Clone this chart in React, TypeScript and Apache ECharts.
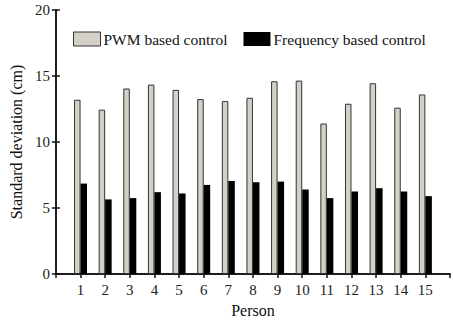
import React, { useEffect, useRef } from "react";
import * as echarts from "echarts";

const persons = [1, 2, 3, 4, 5, 6, 7, 8, 9, 10, 11, 12, 13, 14, 15];
const pwmValues = [13.2, 12.45, 14.05, 14.35, 13.95, 13.25, 13.1, 13.35, 14.6, 14.65, 11.4, 12.9, 14.45, 12.6, 13.6];
const freqValues = [6.85, 5.65, 5.75, 6.2, 6.1, 6.75, 7.05, 6.95, 7.0, 6.4, 5.75, 6.25, 6.5, 6.25, 5.9];
const yTicks = [0, 5, 10, 15, 20];

const FONT = "Liberation Serif";

export default function App() {
  const ref = useRef<HTMLDivElement>(null);
  useEffect(() => {
    if (!ref.current) return;
    const chart = echarts.init(ref.current, null, { renderer: "svg" });
    const axisLine = { show: true, lineStyle: { color: "#111", width: 1.5 } };
    chart.setOption({
      animation: false,
      backgroundColor: "#fff",
      textStyle: { fontFamily: FONT },
      legend: {
        left: 73,
        top: 31,
        padding: 0,
        itemWidth: 27,
        itemHeight: 14,
        itemGap: 16,
        textStyle: { fontFamily: FONT, fontSize: 15.5, color: "#111", padding: [0, 0, 0, -2] },
        data: [
          { name: "PWM based control", icon: "rect", itemStyle: { color: "#d4d0c8", borderColor: "#333", borderWidth: 1 } },
          { name: "Frequency based control", icon: "rect", itemStyle: { color: "#000" } },
        ],
      },
      grid: { left: 51, right: 1, top: 10, bottom: 46 },
      xAxis: [
        {
          type: "value",
          min: 0,
          max: persons.length + 1,
          interval: 1,
          name: "Person",
          nameLocation: "middle",
          nameGap: 28,
          nameTextStyle: { fontFamily: FONT, fontSize: 16, color: "#111" },
          axisLine,
          axisTick: { show: false },
          splitLine: { show: false },
          axisLabel: {
            margin: 8,
            fontFamily: FONT,
            fontSize: 15,
            color: "#222",
            formatter: (v: number) => (persons.includes(v) ? String(v) : ""),
          },
        },
        {
          type: "value",
          position: "top",
          min: 0,
          max: persons.length + 1,
          interval: 1,
          axisLine,
          axisTick: { show: true, inside: true, length: 4, lineStyle: { color: "#111", width: 1.5 } },
          axisLabel: { show: false },
          splitLine: { show: false },
        },
      ],
      yAxis: [
        {
          type: "value",
          min: yTicks[0],
          max: yTicks[yTicks.length - 1],
          interval: 5,
          name: "Standard deviation (cm)",
          nameLocation: "middle",
          nameGap: 28,
          nameTextStyle: { fontFamily: FONT, fontSize: 16, color: "#111" },
          axisLine,
          axisTick: { show: true, inside: true, length: 4, lineStyle: { color: "#111", width: 1.5 } },
          axisLabel: { margin: 6, fontFamily: FONT, fontSize: 15, color: "#222" },
          splitLine: { show: false },
        },
        {
          type: "value",
          position: "right",
          min: yTicks[0],
          max: yTicks[yTicks.length - 1],
          interval: 5,
          axisLine,
          axisTick: { show: true, inside: true, length: 4, lineStyle: { color: "#111", width: 1.5 } },
          axisLabel: { show: false },
          splitLine: { show: false },
        },
      ],
      series: [
        {
          name: "PWM based control",
          type: "bar",
          barWidth: 6.5,
          barGap: "0%",
          data: persons.map((p, i) => [p, pwmValues[i]]),
          itemStyle: { color: "#d4d0c8", borderColor: "#333", borderWidth: 1 },
        },
        {
          name: "Frequency based control",
          type: "bar",
          barWidth: 6.5,
          barGap: "0%",
          data: persons.map((p, i) => [p, freqValues[i]]),
          itemStyle: { color: "#000" },
        },
      ],
    });
    return () => chart.dispose();
  }, []);
  return <div ref={ref} style={{ position: "fixed", left: 0, top: 0, width: 453, height: 323 }} />;
}
